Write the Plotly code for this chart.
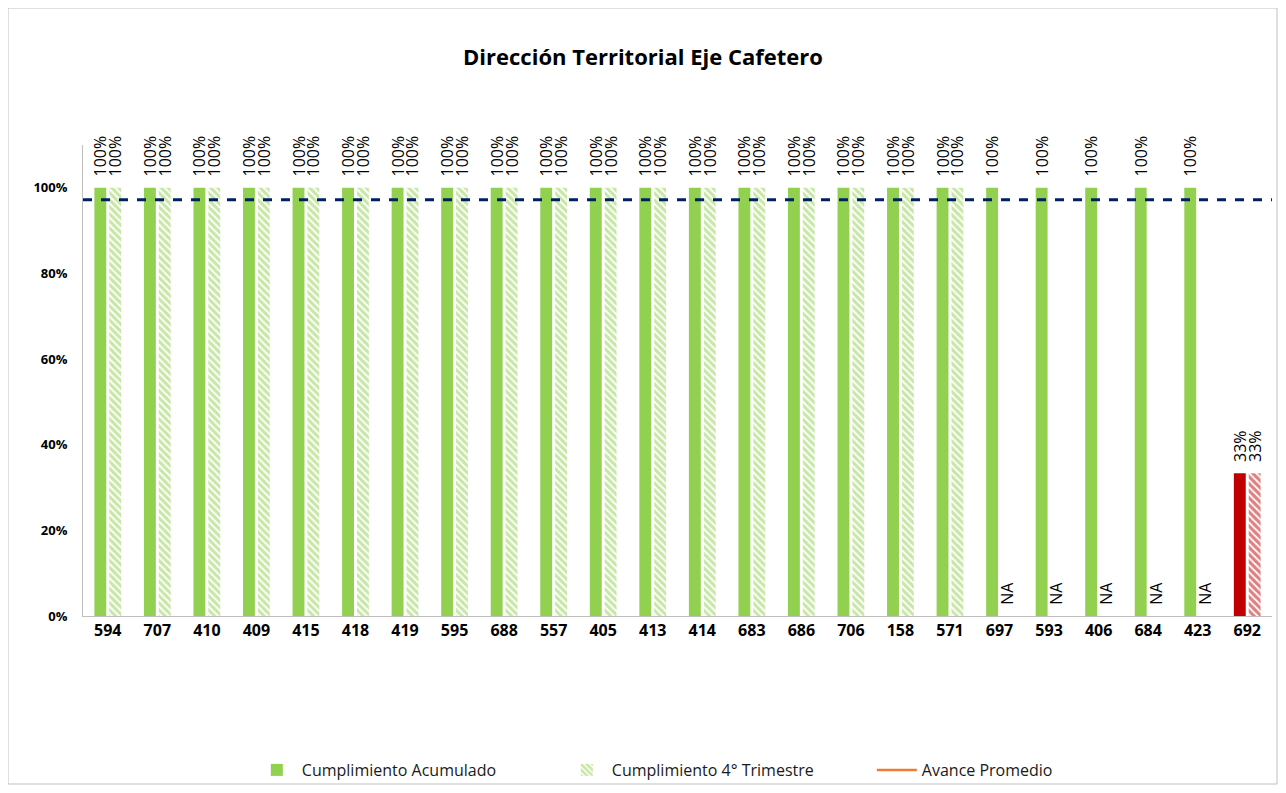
import plotly.graph_objects as go

# data
categories = ["594", "707", "410", "409", "415", "418", "419", "595", "688", "557",
              "405", "413", "414", "683", "686", "706", "158", "571", "697", "593",
              "406", "684", "423", "692"]
cumplimiento_acumulado = [1.0] * 23 + [0.3333]
# None = NA (no goal in the quarter)
cumplimiento_trimestre = [1.0] * 18 + [None] * 5 + [0.3333]
avance_promedio = 0.972

GREEN = "#92D050"
RED = "#C00000"
FONT = "Open Sans, Lato, sans-serif"


def bar_color(v):
    return RED if v < 0.5 else GREEN


def pct_text(v):
    # leading nbsp keeps the label a bit off the bar end, like the original
    return "\u00a0\u00a0" + ("NA" if v is None else f"{v:.0%}")


acum_colors = [bar_color(v) for v in cumplimiento_acumulado]
trim_colors = [GREEN if v is None else bar_color(v) for v in cumplimiento_trimestre]
trim_values = [0 if v is None else v for v in cumplimiento_trimestre]

label_font = dict(family=FONT, size=16, color="black")

fig = go.Figure()

fig.add_trace(go.Bar(
    x=categories, y=cumplimiento_acumulado, name="Cumplimiento Acumulado",
    marker=dict(color=acum_colors, line=dict(width=0)),
    text=[pct_text(v) for v in cumplimiento_acumulado],
    textposition="outside", textangle=-90, textfont=label_font,
    constraintext="none", cliponaxis=False,
))

fig.add_trace(go.Bar(
    x=categories, y=trim_values, name="Cumplimiento 4° Trimestre",
    marker=dict(
        color="white", line=dict(width=0),
        pattern=dict(shape="\\", fgcolor=trim_colors, bgcolor="white",
                     size=5, solidity=0.65, fillmode="overlay"),
    ),
    text=[pct_text(v) for v in cumplimiento_trimestre],
    textposition="outside", textangle=-90, textfont=label_font,
    constraintext="none", cliponaxis=False,
))

# legend entry only (the line in the plot is drawn as a shape)
fig.add_trace(go.Scatter(
    x=[None], y=[None], mode="lines", name="Avance Promedio",
    line=dict(color="#ED7D31", width=2.5),
))

fig.add_shape(type="line", xref="paper", yref="y", x0=0, x1=1,
              y0=avance_promedio, y1=avance_promedio,
              line=dict(color="#002060", width=3, dash="dash"))

# outer chart border (figure edges, in paper units)
fig.add_shape(type="rect", xref="paper", yref="paper",
              x0=-75 / 1189, x1=1 + 5 / 1189, y0=-168 / 471, y1=1 + 137 / 471,
              line=dict(color="#BFBFBF", width=1))

fig.update_layout(
    width=1270, height=777,
    margin=dict(l=75, r=6, t=137, b=169, autoexpand=False),
    paper_bgcolor="white", plot_bgcolor="white",
    title=dict(text="<b>Dirección Territorial Eje Cafetero</b>",
               x=0.5, xanchor="center", y=0.936, yanchor="middle",
               font=dict(family=FONT, size=22, color="black")),
    barmode="group", bargap=0.4, bargroupgap=0.2,
    xaxis=dict(showline=True, linecolor="#BFBFBF", linewidth=1, ticks="", automargin=False,
               tickfont=dict(family=FONT, size=16, color="black", weight="bold")),
    yaxis=dict(range=[0, 1.1], tickvals=[0, 0.2, 0.4, 0.6, 0.8, 1.0],
               tickformat=".0%", showgrid=False, zeroline=False, automargin=False,
               showline=True, linecolor="#BFBFBF", linewidth=1, ticks="",
               ticklabelstandoff=12,
               tickfont=dict(family=FONT, size=13, color="black", weight="bold")),
    legend=dict(orientation="h", x=0.142, xanchor="left", y=-0.327, yanchor="middle",
                bgcolor="rgba(0,0,0,0)",
                font=dict(family=FONT, size=16, color="#1a1a1a"),
                entrywidth=255, itemwidth=40),
    showlegend=True,
)

fig.write_html("out.html")
